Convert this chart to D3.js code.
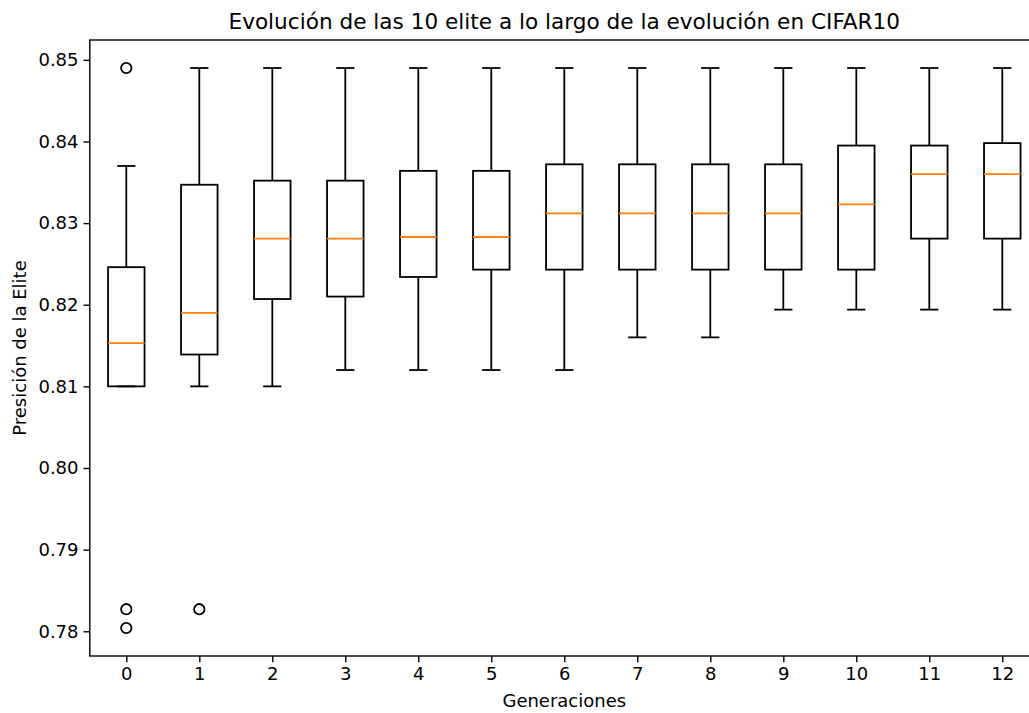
<!DOCTYPE html>
<html>
<head>
<meta charset="utf-8">
<script src="https://cdn.jsdelivr.net/npm/d3@7"></script>
<style>
  body { margin: 0; background: #fff; }
  text { font-family: "DejaVu Sans", sans-serif; fill: #000; }
</style>
</head>
<body>
<div id="chart"></div>
<script>
// generaciones 0..12, estadisticas de cada caja
var generaciones = [0, 1, 2, 3, 4, 5, 6, 7, 8, 9, 10, 11, 12];
var bigoteInf = [0.8100, 0.8100, 0.8100, 0.8120, 0.8120, 0.8120, 0.8120, 0.8160, 0.8160, 0.8194, 0.8194, 0.8194, 0.8194];
var cuartil1  = [0.8100, 0.8139, 0.8207, 0.8210, 0.8234, 0.8243, 0.8243, 0.8243, 0.8243, 0.8243, 0.8243, 0.8281, 0.8281];
var mediana   = [0.8153, 0.8190, 0.8281, 0.8281, 0.8283, 0.8283, 0.8312, 0.8312, 0.8312, 0.8312, 0.8323, 0.8360, 0.8360];
var cuartil3  = [0.8246, 0.8347, 0.8352, 0.8352, 0.8364, 0.8364, 0.8372, 0.8372, 0.8372, 0.8372, 0.8395, 0.8395, 0.8398];
var bigoteSup = [0.8370, 0.8490, 0.8490, 0.8490, 0.8490, 0.8490, 0.8490, 0.8490, 0.8490, 0.8490, 0.8490, 0.8490, 0.8490];
var atipicos  = [[0.8490, 0.7827, 0.7804], [0.7827], [], [], [], [], [], [], [], [], [], [], []];
var yTicks = [0.78, 0.79, 0.80, 0.81, 0.82, 0.83, 0.84, 0.85];

var mLeft = 89.8, mTop = 40, mBottom = 656, unit = 73;

var svg = d3.select("#chart").append("svg")
    .attr("width", 1029)
    .attr("height", 713);

var x = d3.scaleLinear()
    .domain([-0.5, 12.5])
    .range([mLeft, mLeft + 13 * unit]);

var todos = d3.merge([bigoteInf, bigoteSup, d3.merge(atipicos)]);
var lo = d3.min(todos), hi = d3.max(todos), pad = (hi - lo) * 0.05;
var y = d3.scaleLinear()
    .domain([lo - pad, hi + pad])
    .range([mBottom, mTop]);

var halfBox = (x(0.25) - x(0));
var halfCap = (x(0.125) - x(0));
var lw = 1.8;

var g = svg.append("g");

var caja = g.selectAll(".caja")
    .data(generaciones)
    .enter().append("g")
      .attr("class", "caja");

// bigotes
caja.append("line")
    .attr("x1", function(d) { return x(d); })
    .attr("x2", function(d) { return x(d); })
    .attr("y1", function(d, i) { return y(bigoteInf[i]); })
    .attr("y2", function(d, i) { return y(cuartil1[i]); })
    .attr("stroke", "#000").attr("stroke-width", lw);
caja.append("line")
    .attr("x1", function(d) { return x(d); })
    .attr("x2", function(d) { return x(d); })
    .attr("y1", function(d, i) { return y(cuartil3[i]); })
    .attr("y2", function(d, i) { return y(bigoteSup[i]); })
    .attr("stroke", "#000").attr("stroke-width", lw);
// topes
[bigoteInf, bigoteSup].forEach(function(arr) {
  caja.append("line")
      .attr("x1", function(d) { return x(d) - halfCap; })
      .attr("x2", function(d) { return x(d) + halfCap; })
      .attr("y1", function(d, i) { return y(arr[i]); })
      .attr("y2", function(d, i) { return y(arr[i]); })
      .attr("stroke", "#000").attr("stroke-width", lw);
});
// cajas
caja.append("rect")
    .attr("x", function(d) { return x(d) - halfBox; })
    .attr("width", 2 * halfBox)
    .attr("y", function(d, i) { return y(cuartil3[i]); })
    .attr("height", function(d, i) { return y(cuartil1[i]) - y(cuartil3[i]); })
    .attr("fill", "none").attr("stroke", "#000").attr("stroke-width", lw);
// medianas
caja.append("line")
    .attr("x1", function(d) { return x(d) - halfBox; })
    .attr("x2", function(d) { return x(d) + halfBox; })
    .attr("y1", function(d, i) { return y(mediana[i]); })
    .attr("y2", function(d, i) { return y(mediana[i]); })
    .attr("stroke", "#ff7f0e").attr("stroke-width", lw);
// atipicos
caja.selectAll("circle")
    .data(function(d, i) { return atipicos[i].map(function(v) { return {x: d, v: v}; }); })
    .enter().append("circle")
      .attr("cx", function(d) { return x(d.x); })
      .attr("cy", function(d) { return y(d.v); })
      .attr("r", 5.2)
      .attr("fill", "none").attr("stroke", "#000").attr("stroke-width", lw);

// ejes
var xAxis = svg.append("g")
    .attr("transform", "translate(0," + mBottom + ")")
    .call(d3.axisBottom(x).tickValues(generaciones).tickFormat(d3.format("d")).tickSizeOuter(0).tickSize(6.3).tickPadding(5));
var yAxis = svg.append("g")
    .attr("transform", "translate(" + mLeft + ",0)")
    .call(d3.axisLeft(y).tickValues(yTicks).tickFormat(d3.format(".2f")).tickSizeOuter(0).tickSize(6.3).tickPadding(5));
[xAxis, yAxis].forEach(function(a) {
  a.select(".domain").remove();
  a.selectAll("line").attr("stroke", "#000").attr("stroke-width", 1.4);
  a.selectAll("text").style("font-size", "18px").style("font-family", "DejaVu Sans").attr("fill", "#000");
});

// marco
svg.append("rect")
    .attr("x", mLeft).attr("y", mTop)
    .attr("width", x(12.5) - mLeft).attr("height", mBottom - mTop)
    .attr("fill", "none").attr("stroke", "#000").attr("stroke-width", 1.4);

svg.append("text")
    .attr("x", (mLeft + x(12.5)) / 2).attr("y", 29)
    .attr("text-anchor", "middle")
    .style("font-size", "21.6px")
    .text("Evolución de las 10 elite a lo largo de la evolución en CIFAR10");

svg.append("text")
    .attr("x", (mLeft + x(12.5)) / 2).attr("y", 707)
    .attr("text-anchor", "middle")
    .style("font-size", "18px")
    .text("Generaciones");

svg.append("text")
    .attr("transform", "translate(26," + (mTop + mBottom) / 2 + ") rotate(-90)")
    .attr("text-anchor", "middle")
    .style("font-size", "18px")
    .text("Presición de la Elite");
</script>
</body>
</html>
